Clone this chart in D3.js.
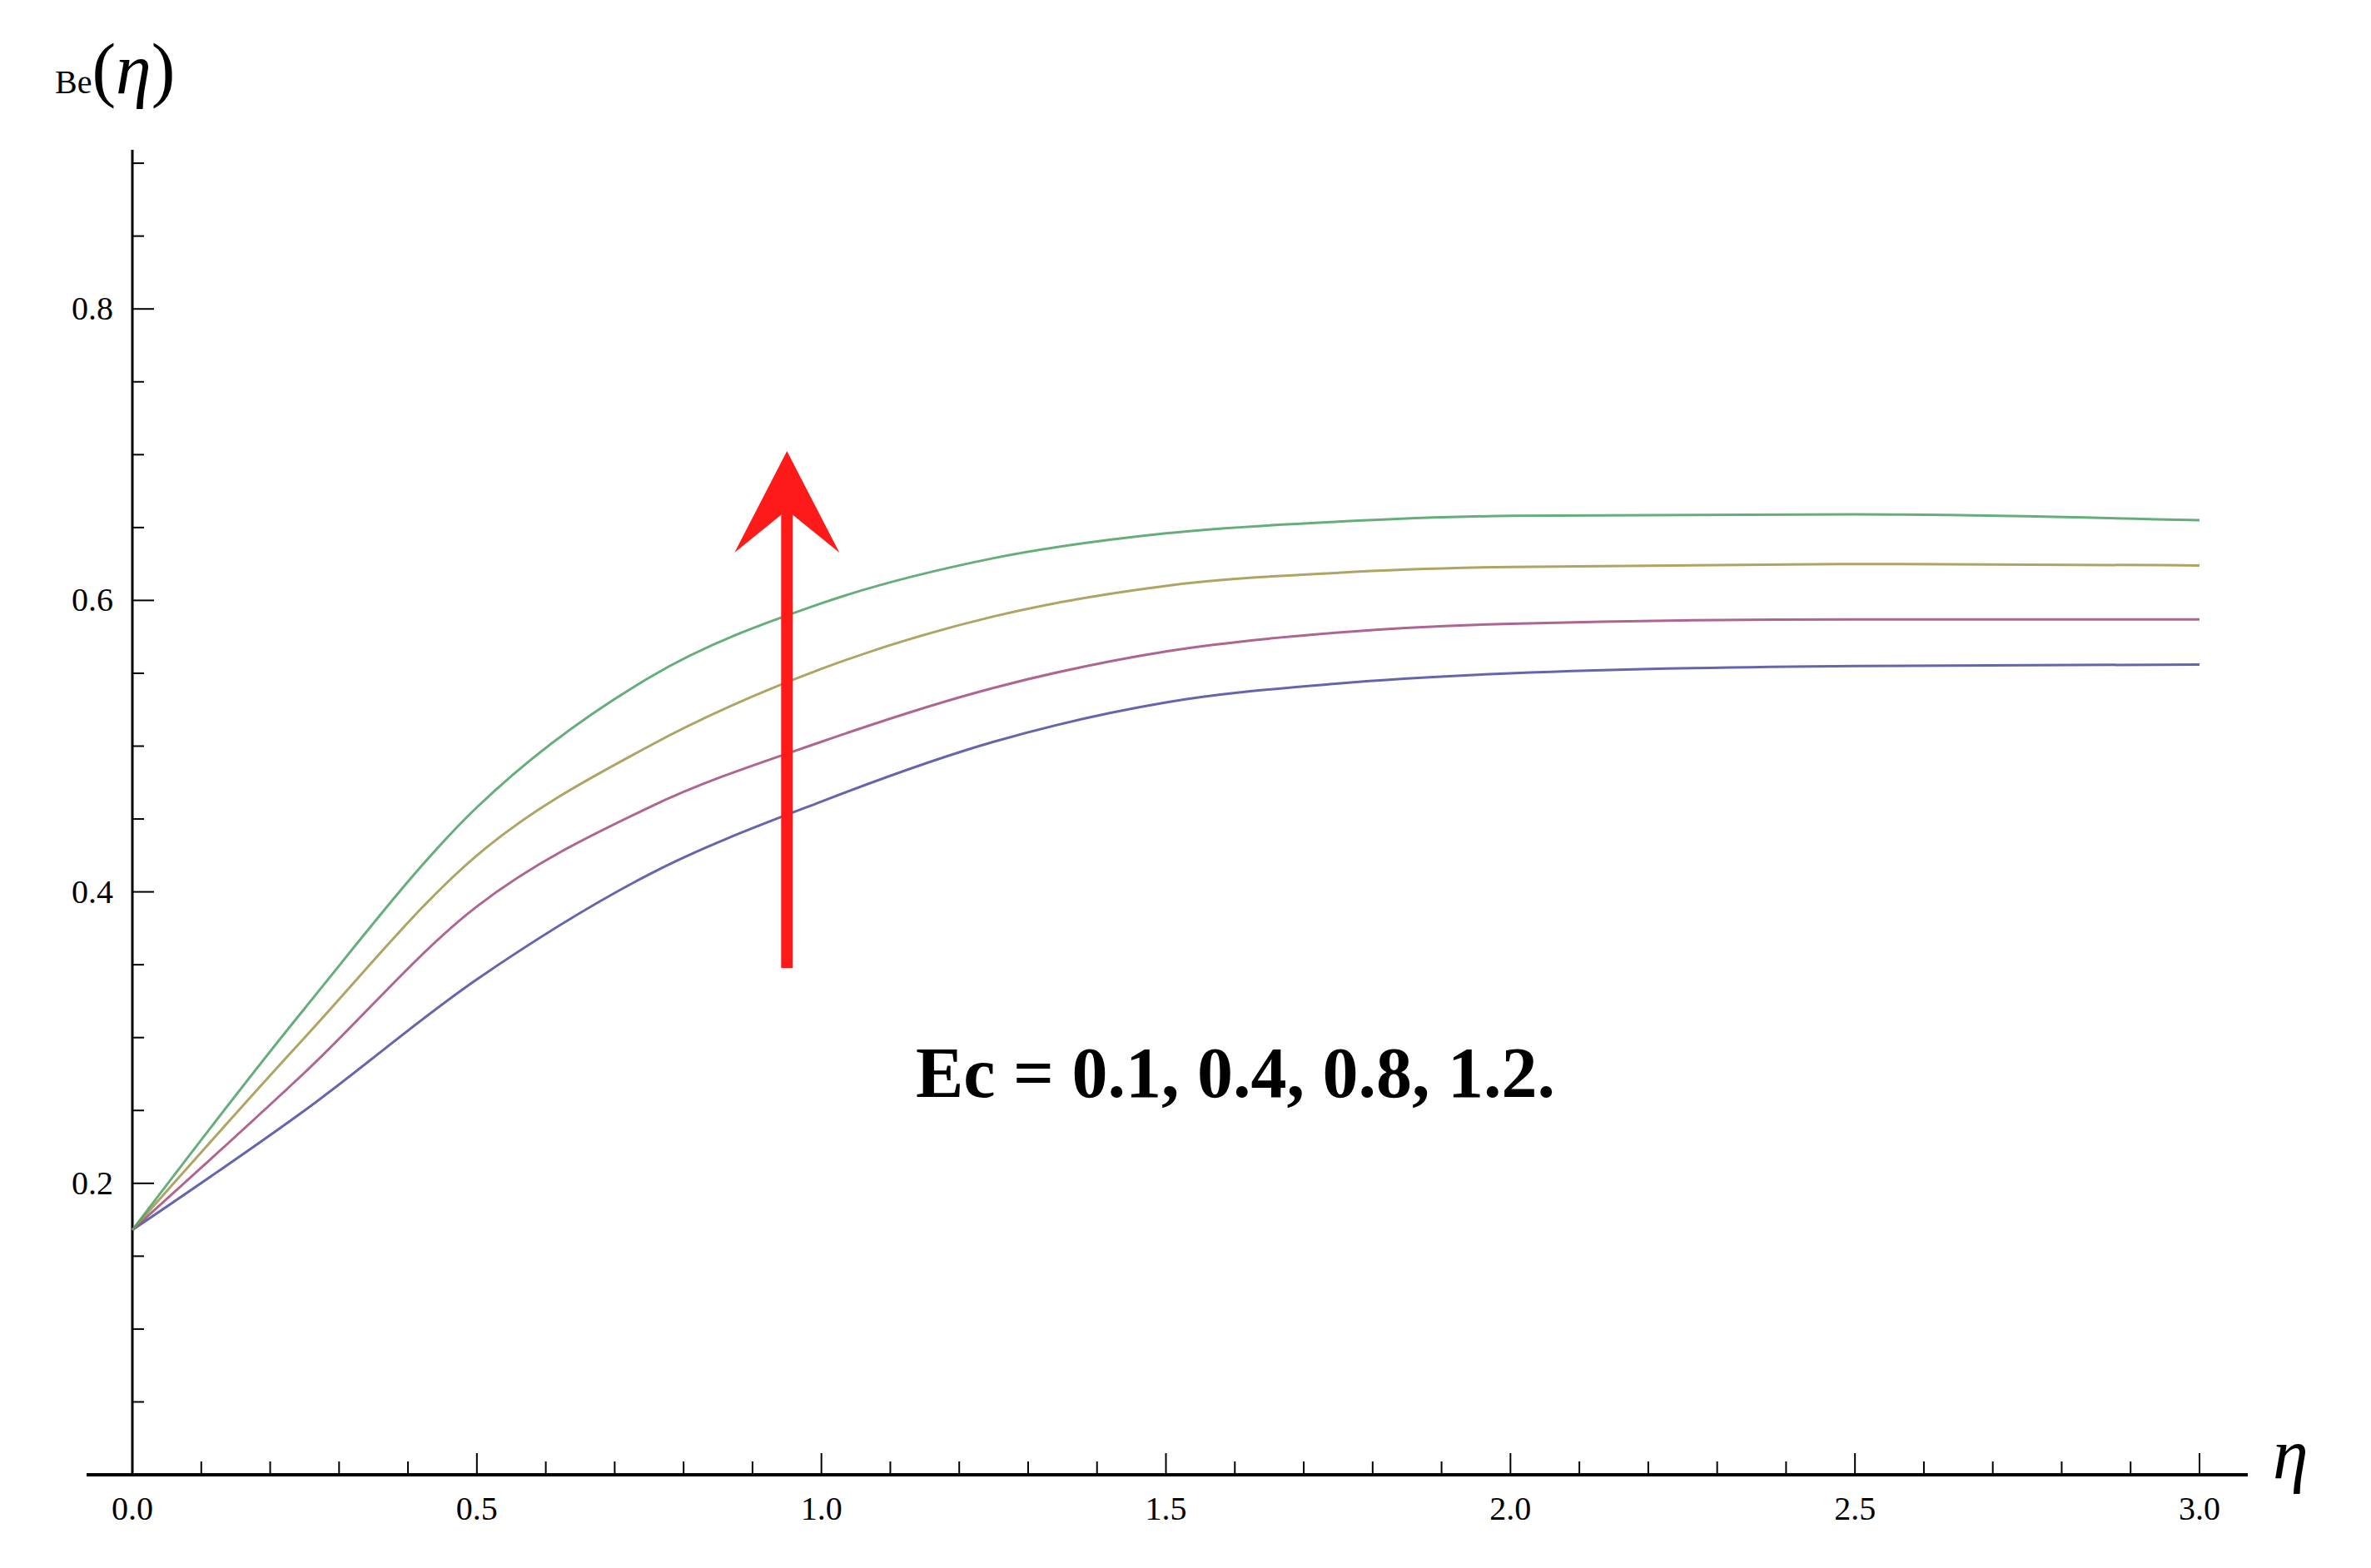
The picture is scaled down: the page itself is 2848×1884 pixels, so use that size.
<!DOCTYPE html>
<html>
<head>
<meta charset="utf-8">
<script src="https://cdn.jsdelivr.net/npm/d3@7"></script>
<style>
  body { margin: 0; background: #fff; }
  svg { display: block; }
</style>
</head>
<body>
<script>
// DATA
var eta = [0, 0.25, 0.5, 0.75, 1.0, 1.25, 1.5, 1.75, 2.0, 2.5, 3.0];
var beBlue   = [0.168, 0.250, 0.340, 0.412, 0.462, 0.503, 0.530, 0.543, 0.550, 0.555, 0.556];
var bePurple = [0.168, 0.276, 0.390, 0.458, 0.503, 0.540, 0.565, 0.578, 0.584, 0.587, 0.587];
var beOlive  = [0.168, 0.300, 0.425, 0.500, 0.553, 0.589, 0.610, 0.619, 0.623, 0.625, 0.624];
var beGreen  = [0.168, 0.320, 0.458, 0.547, 0.598, 0.629, 0.646, 0.654, 0.658, 0.659, 0.655];
var seriesColors = ["#4a4aa0", "#a04a7c", "#a09448", "#4aa063"];
var xTickLabels = ["0.0", "0.5", "1.0", "1.5", "2.0", "2.5", "3.0"];
var yTickLabels = ["0.2", "0.4", "0.6", "0.8"];
var annotation = "Ec = 0.1, 0.4, 0.8, 1.2.";

var W = 2848, H = 1884;
var svg = d3.select("body").append("svg").attr("width", W).attr("height", H);

var x = d3.scaleLinear().domain([0, 3]).range([159, 2642]);
var y = d3.scaleLinear().domain([0, 1]).range([1772, 21]);

// AXES LINES
svg.append("line").attr("x1", 104).attr("x2", 2700).attr("y1", y(0)).attr("y2", y(0))
   .attr("stroke", "black").attr("stroke-width", 4);
svg.append("line").attr("x1", x(0)).attr("x2", x(0)).attr("y1", 180).attr("y2", y(0))
   .attr("stroke", "black").attr("stroke-width", 3);

// X TICKS
d3.range(0, 31).forEach(function(i) {
    var v = i / 10, major = i % 5 === 0;
    svg.append("line").attr("x1", x(v)).attr("x2", x(v))
       .attr("y1", y(0)).attr("y2", y(0) - (major ? 26 : 16))
       .attr("stroke", "black").attr("stroke-width", 2);
});
xTickLabels.forEach(function(t) {
    svg.append("text").attr("x", x(+t)).attr("y", 1826)
       .attr("text-anchor", "middle").attr("font-family", "Liberation Serif")
       .attr("font-size", 40).text(t);
});

// Y TICKS
d3.range(1, 19).forEach(function(i) {
    var v = i * 0.05, major = i % 4 === 0;
    svg.append("line").attr("x1", x(0)).attr("x2", x(0) + (major ? 26 : 14))
       .attr("y1", y(v)).attr("y2", y(v))
       .attr("stroke", "black").attr("stroke-width", 2);
});
yTickLabels.forEach(function(t) {
    svg.append("text").attr("x", 136).attr("y", y(+t) + 13)
       .attr("text-anchor", "end").attr("font-family", "Liberation Serif")
       .attr("font-size", 40).text(t);
});

// CURVES
var line = d3.line().x(function(d) { return x(d[0]); }).y(function(d) { return y(d[1]); })
             .curve(d3.curveMonotoneX);
[beBlue, bePurple, beOlive, beGreen].forEach(function(s, k) {
    svg.append("path").datum(eta.map(function(e, i) { return [e, s[i]]; }))
       .attr("d", line).attr("fill", "none")
       .attr("stroke", seriesColors[k]).attr("stroke-width", 3).attr("stroke-opacity", 0.85);
});

// ARROW
var ax = x(0.95);
svg.append("line").attr("x1", ax).attr("x2", ax).attr("y1", 1163).attr("y2", 600)
   .attr("stroke", "#ff1a1a").attr("stroke-width", 14);
svg.append("path")
   .attr("d", "M" + ax + ",542 L" + (ax + 63) + ",664 L" + ax + ",613 L" + (ax - 63) + ",664 Z")
   .attr("fill", "#ff1a1a");

// ANNOTATION
svg.append("text").attr("x", 1100).attr("y", 1318)
   .attr("font-family", "Liberation Serif").attr("font-weight", "bold")
   .attr("font-size", 86).text(annotation);

// AXIS LABELS
var yl = svg.append("text").attr("x", 66).attr("y", 112).attr("font-family", "Liberation Serif");
yl.append("tspan").attr("font-size", 40).text("Be");
yl.append("tspan").attr("font-size", 86).text("(");
yl.append("tspan").attr("font-size", 86).attr("font-style", "italic").text("η");
yl.append("tspan").attr("font-size", 86).text(")");
svg.append("text").attr("x", 2730).attr("y", 1776)
   .attr("font-family", "Liberation Serif").attr("font-style", "italic")
   .attr("font-size", 86).text("η");
</script>
</body>
</html>
